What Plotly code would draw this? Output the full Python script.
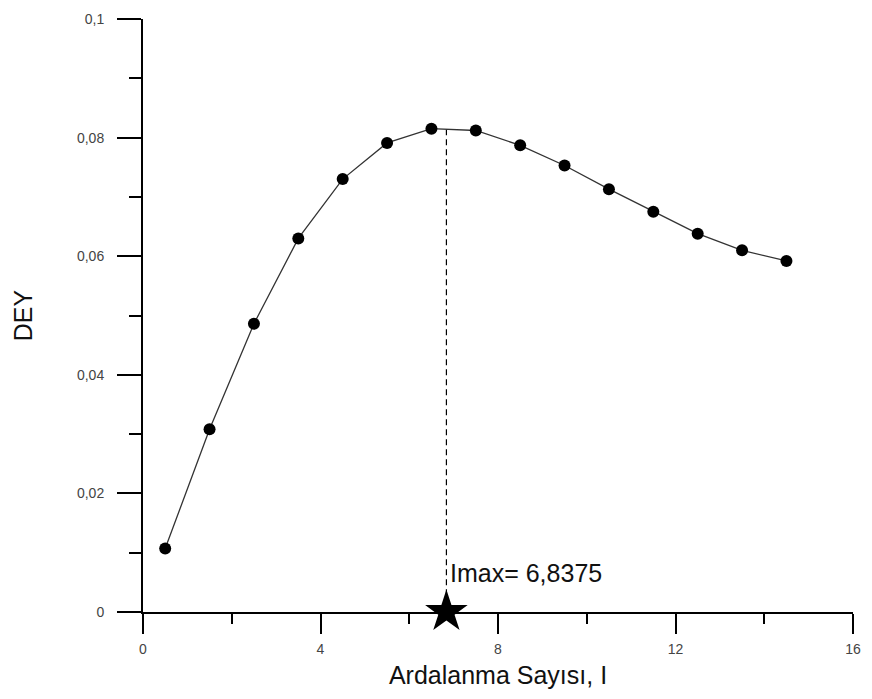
import plotly.graph_objects as go

# Ardalanma sayısı (interleaving count) and the corresponding DEY values
ardalanma = [0.5, 1.5, 2.5, 3.5, 4.5, 5.5, 6.5, 7.5, 8.5, 9.5, 10.5, 11.5, 12.5, 13.5, 14.5]
dey = [0.0107, 0.0308, 0.0486, 0.0630, 0.0730, 0.0791, 0.0815, 0.0812,
       0.0787, 0.0753, 0.0713, 0.0675, 0.0638, 0.0610, 0.0592]

# Optimum interleaving count
IMAX = 6.8375

x_tickvals = [0, 4, 8, 12, 16]
x_ticktext = ["0", "4", "8", "12", "16"]
y_tickvals = [0, 0.02, 0.04, 0.06, 0.08, 0.1]
y_ticktext = ["0", "0,02", "0,04", "0,06", "0,08", "0,1"]

FONT = "Liberation Sans, Arial, sans-serif"

# DEY value on the curve at Imax (linear between neighbouring points)
i = max(k for k in range(len(ardalanma)) if ardalanma[k] <= IMAX)
t = (IMAX - ardalanma[i]) / (ardalanma[i + 1] - ardalanma[i])
dey_at_imax = dey[i] + t * (dey[i + 1] - dey[i])

fig = go.Figure()

# vertical dashed guide from the curve down to the axis
fig.add_trace(go.Scatter(
    x=[IMAX, IMAX], y=[dey_at_imax, 0],
    mode="lines",
    line=dict(color="black", width=1.2, dash="6px,4px"),
    hoverinfo="skip", showlegend=False,
))

# DEY curve
fig.add_trace(go.Scatter(
    x=ardalanma, y=dey,
    mode="lines+markers",
    line=dict(color="#333333", width=1.3),
    marker=dict(color="black", size=12, symbol="circle"),
    showlegend=False,
))

# star at Imax on the x axis
fig.add_trace(go.Scatter(
    x=[IMAX], y=[0],
    mode="markers",
    marker=dict(color="black", size=32, symbol="star"),
    cliponaxis=False,
    showlegend=False,
))

fig.add_annotation(
    x=IMAX, y=0.0066, xref="x", yref="y",
    xshift=2,
    text="Imax= " + f"{IMAX}".replace(".", ","),
    showarrow=False, xanchor="left", yanchor="middle",
    font=dict(family=FONT, size=25, color="#111111"),
)

fig.update_layout(
    width=872, height=699,
    margin=dict(l=143, r=13, t=11, b=87),
    paper_bgcolor="white", plot_bgcolor="white",
    separators=",.",
    font=dict(family=FONT, color="#333333"),
)

fig.update_xaxes(
    range=[0, 16], showgrid=False, zeroline=False,
    showline=True, linecolor="black", linewidth=2,
    tickmode="array", tickvals=x_tickvals, ticktext=x_ticktext,
    ticks="outside", ticklen=20, tickwidth=2, tickcolor="black",
    ticklabelstandoff=3,
    tickfont=dict(family=FONT, size=14, color="#444444"),
    minor=dict(ticks="outside", ticklen=10, tickwidth=2, tickcolor="black",
               tickvals=[2, 6, 10, 14], showgrid=False),
    title=dict(text="Ardalanma Sayısı, I", standoff=11,
               font=dict(family=FONT, size=25, color="#111111")),
)

fig.update_yaxes(
    range=[0, 0.1], showgrid=False, zeroline=False,
    showline=True, linecolor="black", linewidth=2,
    tickmode="array", tickvals=y_tickvals, ticktext=y_ticktext,
    ticks="outside", ticklen=24, tickwidth=2, tickcolor="black",
    ticklabelstandoff=10,
    tickfont=dict(family=FONT, size=14, color="#444444"),
    minor=dict(ticks="outside", ticklen=12, tickwidth=2, tickcolor="black",
               tickvals=[0.01, 0.03, 0.05, 0.07, 0.09], showgrid=False),
    title=dict(text="DEY", standoff=37,
               font=dict(family=FONT, size=25, color="#111111")),
)

fig.write_html("out.html")
